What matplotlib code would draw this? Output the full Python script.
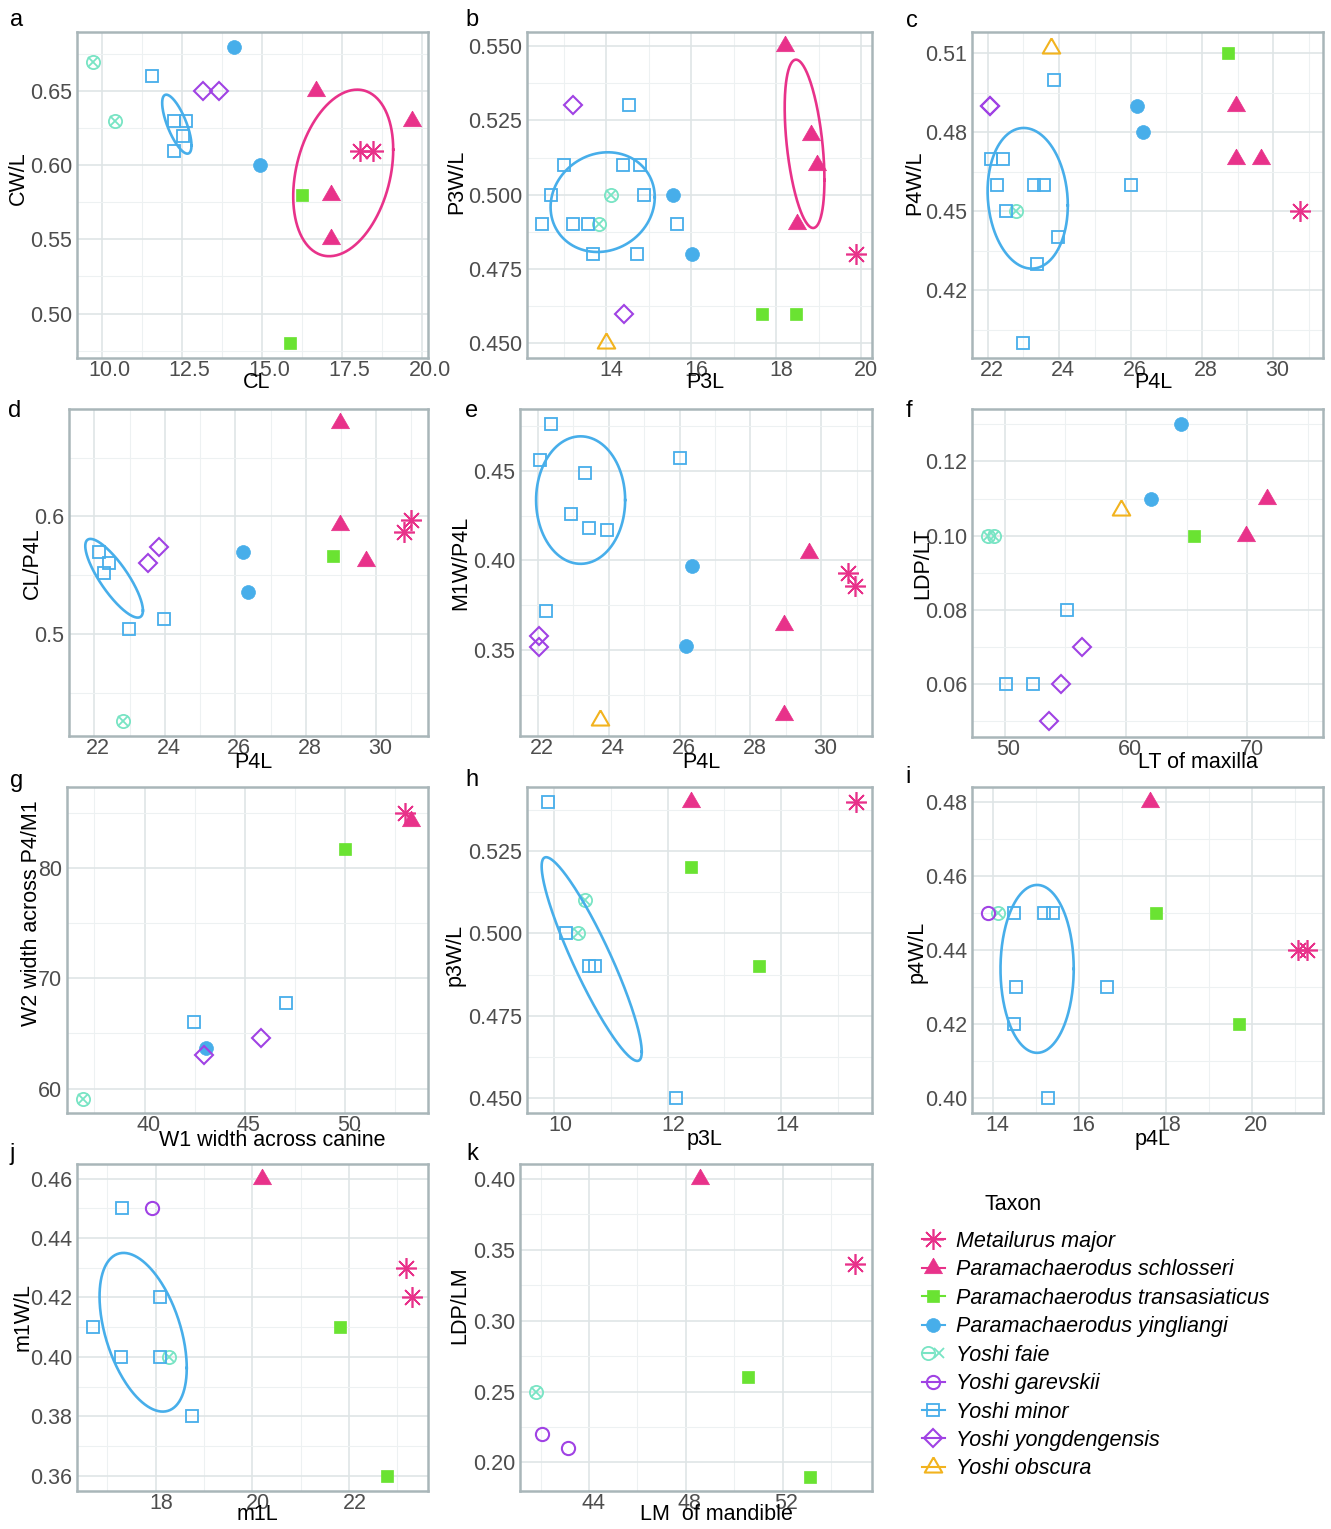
import numpy as np
import matplotlib
matplotlib.use("Agg")
import matplotlib.pyplot as plt
from matplotlib.lines import Line2D
from matplotlib.legend_handler import HandlerTuple
from matplotlib.transforms import ScaledTranslation

plt.rcParams['font.family'] = ['Liberation Sans', 'DejaVu Sans']

W, H = 1331, 1529

# ---------------- taxa ----------------
MM = "Metailurus major"
PS = "Paramachaerodus schlosseri"
PT = "Paramachaerodus transasiaticus"
PY = "Paramachaerodus yingliangi"
YF = "Yoshi faie"
YG = "Yoshi garevskii"
YM = "Yoshi minor"
YY = "Yoshi yongdengensis"
YO = "Yoshi obscura"
taxa = [MM, PS, PT, PY, YF, YG, YM, YY, YO]

# ---------------- data (x, y) per panel ----------------
panel_a = {
    MM: [(18.07, 0.61), (18.49, 0.61)],
    PS: [(16.69, 0.65), (19.71, 0.63), (17.17, 0.58), (17.17, 0.55)],
    PT: [(16.27, 0.58), (15.89, 0.48)],
    PY: [(14.15, 0.68), (14.95, 0.60)],
    YF: [(9.72, 0.67), (10.42, 0.63)],
    YM: [(11.58, 0.66), (12.27, 0.63), (12.63, 0.63), (12.55, 0.62), (12.27, 0.61)],
    YY: [(13.18, 0.65), (13.67, 0.65)],
}
panel_b = {
    MM: [(19.88, 0.48)],
    PS: [(18.20, 0.55), (18.83, 0.52), (18.96, 0.51), (18.49, 0.49)],
    PT: [(17.66, 0.46), (18.47, 0.46)],
    PY: [(15.57, 0.50), (16.01, 0.48)],
    YF: [(14.10, 0.50), (13.82, 0.49)],
    YM: [(12.99, 0.51), (14.39, 0.51), (14.80, 0.51), (12.70, 0.50), (14.89, 0.50),
         (12.49, 0.49), (13.20, 0.49), (13.57, 0.49), (15.67, 0.49), (13.69, 0.48),
         (14.71, 0.48), (14.53, 0.53)],
    YY: [(13.20, 0.53), (14.42, 0.46)],
    YO: [(13.98, 0.45)],
}
panel_c = {
    MM: [(30.74, 0.45)],
    PS: [(28.95, 0.49), (28.95, 0.47), (29.65, 0.47)],
    PT: [(28.74, 0.51)],
    PY: [(26.18, 0.49), (26.34, 0.48)],
    YF: [(22.80, 0.45)],
    YM: [(23.85, 0.50), (22.10, 0.47), (22.42, 0.47), (22.26, 0.46), (23.29, 0.46),
         (23.58, 0.46), (26.02, 0.46), (22.52, 0.45), (23.97, 0.44), (23.38, 0.43),
         (22.98, 0.40)],
    YY: [(22.06, 0.49), (22.06, 0.49)],
    YO: [(23.77, 0.512)],
}
panel_d = {
    MM: [(30.78, 0.587), (31.00, 0.597)],
    PS: [(28.96, 0.680), (28.98, 0.593), (29.70, 0.5625)],
    PT: [(28.77, 0.566)],
    PY: [(26.22, 0.570), (26.36, 0.5355)],
    YF: [(22.81, 0.426)],
    YM: [(22.12, 0.570), (22.41, 0.560), (22.27, 0.552), (22.97, 0.504), (23.98, 0.513)],
    YY: [(23.52, 0.560), (23.83, 0.574)],
}
panel_e = {
    MM: [(30.74, 0.393), (30.96, 0.386)],
    PS: [(29.66, 0.404), (28.96, 0.364), (28.96, 0.314)],
    PY: [(26.35, 0.397), (26.19, 0.3525)],
    YM: [(22.38, 0.476), (22.07, 0.456), (23.34, 0.449), (22.94, 0.426), (23.45, 0.418),
         (23.95, 0.417), (26.02, 0.457), (22.24, 0.372)],
    YY: [(22.04, 0.358), (22.04, 0.3516)],
    YO: [(23.76, 0.311)],
}
panel_f = {
    PS: [(71.62, 0.110), (69.86, 0.100)],
    PT: [(65.59, 0.100)],
    PY: [(64.52, 0.130), (62.05, 0.110)],
    YF: [(48.6, 0.100), (49.1, 0.100)],
    YM: [(55.18, 0.080), (50.14, 0.060), (52.38, 0.060)],
    YY: [(56.36, 0.070), (54.63, 0.060), (53.70, 0.050)],
    YO: [(59.59, 0.107)],
}
panel_g = {
    MM: [(52.99, 84.98)],
    PS: [(53.32, 84.26)],
    PT: [(50.03, 81.69)],
    PY: [(43.06, 63.72)],
    YF: [(36.93, 59.09)],
    YM: [(42.49, 66.04), (47.06, 67.76)],
    YY: [(42.97, 63.02), (45.81, 64.59)],
}
panel_h = {
    MM: [(15.32, 0.54)],
    PS: [(12.41, 0.54)],
    PT: [(12.41, 0.52), (13.60, 0.49)],
    YF: [(10.55, 0.51), (10.42, 0.50)],
    YM: [(9.89, 0.54), (10.20, 0.50), (10.61, 0.49), (10.72, 0.49), (12.15, 0.45)],
}
panel_i = {
    MM: [(21.08, 0.44), (21.27, 0.44)],
    PS: [(17.63, 0.48)],
    PT: [(17.78, 0.45), (19.70, 0.42)],
    YF: [(14.12, 0.45)],
    YG: [(13.88, 0.45)],
    YM: [(14.48, 0.45), (15.17, 0.45), (15.40, 0.45), (14.52, 0.43), (14.48, 0.42),
         (16.65, 0.43), (15.27, 0.40)],
}
panel_j = {
    MM: [(23.19, 0.43), (23.30, 0.42)],
    PS: [(20.21, 0.46)],
    PT: [(21.81, 0.41), (22.79, 0.36)],
    YF: [(18.28, 0.40)],
    YG: [(17.92, 0.45)],
    YM: [(17.30, 0.45), (18.09, 0.42), (16.70, 0.41), (17.28, 0.40), (18.08, 0.40), (18.76, 0.38)],
}
panel_k = {
    MM: [(55.01, 0.34)],
    PS: [(48.59, 0.40)],
    PT: [(50.59, 0.26), (53.12, 0.19)],
    YF: [(41.81, 0.25)],
    YG: [(42.07, 0.22), (43.12, 0.21)],
}

# ellipses: (taxon colour, centre x, centre y, x half-range, y half-range, correlation)
ellipses_a = [(YM, 12.35, 0.6278, 0.458, 0.0199, -0.72), (PS, 17.55, 0.5949, 1.5625, 0.0562, 0.28)]
ellipses_b = [(YM, 13.91, 0.4975, 1.228, 0.01676, 0.10), (PS, 18.67, 0.5171, 0.4685, 0.0283, -0.43)]
ellipses_c = [(YM, 23.12, 0.4549, 1.123, 0.02673, -0.10)]
ellipses_d = [(YM, 22.56, 0.5474, 0.818, 0.0335, -0.82)]
ellipses_e = [(YM, 23.21, 0.4337, 1.256, 0.03556, 0.0)]
ellipses_h = [(YM, 10.66, 0.4922, 0.882, 0.0309, -0.91)]
ellipses_i = [(YM, 15.02, 0.4349, 0.849, 0.02266, 0.0)]
ellipses_j = [(YM, 17.74, 0.4083, 0.903, 0.02669, -0.45)]

# ---------------- styles ----------------
PINK = '#e8328a'
GREEN = '#6ae332'
BLUE = '#47aeea'
TEAL = '#78e4c4'
PURPLE = '#a042e4'
ORANGE = '#f2b31e'
tri = [(0, 1.0), (-0.866, -0.5), (0.866, -0.5), (0, 1.0)]

styles = {
    MM: [dict(marker=(8, 2, 0), ms=15.0, mew=1.2, color=PINK)],
    PS: [dict(marker=tri, ms=15.0, color=PINK, mec=PINK, mfc=PINK, mew=0.5)],
    PT: [dict(marker='s', ms=9.2, color=GREEN, mfc=GREEN, mec=GREEN, mew=0.5)],
    PY: [dict(marker='o', ms=10.0, color=BLUE, mfc=BLUE, mec=BLUE, mew=0.5)],
    YF: [dict(marker='o', ms=9.5, color=TEAL, mfc='none', mec=TEAL, mew=1.3),
         dict(marker='x', ms=6.8, color=TEAL, mew=1.3)],
    YG: [dict(marker='o', ms=9.5, color=PURPLE, mfc='none', mec=PURPLE, mew=1.5)],
    YM: [dict(marker='s', ms=8.6, color=BLUE, mfc='none', mec=BLUE, mew=1.3)],
    YY: [dict(marker='D', ms=9.0, color=PURPLE, mfc='none', mec=PURPLE, mew=1.5)],
    YO: [dict(marker=tri, ms=14.5, color=ORANGE, mfc='none', mec=ORANGE, mew=1.5)],
}
tcolor = {MM: PINK, PS: PINK, PT: GREEN, PY: BLUE, YF: TEAL, YG: PURPLE, YM: BLUE, YY: PURPLE, YO: ORANGE}

BORDER = '#a9b6b9'
GRID = '#dfe5e6'
GRID_MINOR = '#edf1f2'
TICKC = '#4d4d4d'
FS = 15.5

panels = [
    dict(letter='a', data=panel_a, ell=ellipses_a, box=(77, 32, 428, 358),
         xlim=(9.23, 20.2), ylim=(0.470, 0.690),
         xt=[10, 12.5, 15, 17.5, 20], xfmt='{:.1f}', yt=[0.50, 0.55, 0.60, 0.65], yfmt='{:.2f}',
         xl='CL', yl='CW/L', xlp=(257, 383), ylp=(18, 178), lp=(17, 20), dx=8),
    dict(letter='b', data=panel_b, ell=ellipses_b, box=(527, 32, 872, 358),
         xlim=(12.126, 20.26), ylim=(0.4451, 0.5547),
         xt=[14, 16, 18, 20], xfmt='{:.0f}', yt=[0.450, 0.475, 0.500, 0.525, 0.550], yfmt='{:.3f}',
         xl='P3L', yl='P3W/L', xlp=(705, 383), ylp=(457, 182), lp=(472, 20), dx=5),
    dict(letter='c', data=panel_c, ell=ellipses_c, box=(972, 32, 1323, 358),
         xlim=(21.56, 31.39), ylim=(0.3942, 0.5181),
         xt=[22, 24, 26, 28, 30], xfmt='{:.0f}', yt=[0.42, 0.45, 0.48, 0.51], yfmt='{:.2f}',
         xl='P4L', yl='P4W/L', xlp=(1153, 383), ylp=(915, 183), lp=(912, 21), dx=4),
    dict(letter='d', data=panel_d, ell=ellipses_d, box=(69, 409, 428, 736),
         xlim=(21.28, 31.47), ylim=(0.4131, 0.6915),
         xt=[22, 24, 26, 28, 30], xfmt='{:.0f}', yt=[0.5, 0.6], yfmt='{:.1f}',
         xl='P4L', yl='CL/P4L', xlp=(253, 762), ylp=(32, 563), lp=(15, 411), dx=4),
    dict(letter='e', data=panel_e, ell=ellipses_e, box=(520, 409, 872, 736),
         xlim=(21.50, 31.43), ylim=(0.3021, 0.4845),
         xt=[22, 24, 26, 28, 30], xfmt='{:.0f}', yt=[0.35, 0.40, 0.45], yfmt='{:.2f}',
         xl='P4L', yl='M1W/P4L', xlp=(701, 762), ylp=(461, 563), lp=(472, 411), dx=4),
    dict(letter='f', data=panel_f, ell=[], box=(972, 409, 1323, 737),
         xlim=(47.32, 76.22), ylim=(0.0458, 0.1341),
         xt=[50, 60, 70], xfmt='{:.0f}', yt=[0.06, 0.08, 0.10, 0.12], yfmt='{:.2f}',
         xl='LT of maxilla', yl='LDP/LT', xlp=(1198, 762), ylp=(923, 563), lp=(909, 411), dx=4),
    dict(letter='g', data=panel_g, ell=[], box=(67, 787, 428, 1113),
         xlim=(36.13, 54.15), ylim=(57.79, 87.34),
         xt=[40, 45, 50], xfmt='{:.0f}', yt=[60, 70, 80], yfmt='{:.0f}',
         xl='W1 width across canine', yl='W2 width across P4/M1', xlp=(272, 1140), ylp=(32, 913),
         lp=(17, 781), dx=4),
    dict(letter='h', data=panel_h, ell=ellipses_h, box=(527, 787, 872, 1113),
         xlim=(9.52, 15.6), ylim=(0.4455, 0.5444),
         xt=[10, 12, 14], xfmt='{:.0f}', yt=[0.450, 0.475, 0.500, 0.525], yfmt='{:.3f}',
         xl='p3L', yl='p3W/L', xlp=(705, 1140), ylp=(455, 955), lp=(472, 780), dx=6),
    dict(letter='i', data=panel_i, ell=ellipses_i, box=(972, 787, 1323, 1113),
         xlim=(13.51, 21.65), ylim=(0.396, 0.484),
         xt=[14, 16, 18, 20], xfmt='{:.0f}', yt=[0.40, 0.42, 0.44, 0.46, 0.48], yfmt='{:.2f}',
         xl='p4L', yl='p4W/L', xlp=(1153, 1140), ylp=(917, 952), lp=(908, 777), dx=4),
    dict(letter='j', data=panel_j, ell=ellipses_j, box=(77, 1164, 428, 1491),
         xlim=(16.37, 23.64), ylim=(0.3549, 0.4649),
         xt=[18, 20, 22], xfmt='{:.0f}', yt=[0.36, 0.38, 0.40, 0.42, 0.44, 0.46], yfmt='{:.2f}',
         xl='m1L', yl='m1W/L', xlp=(257, 1515), ylp=(23, 1317), lp=(12, 1154), dx=6),
    dict(letter='k', data=panel_k, ell=[], box=(520, 1164, 872, 1491),
         xlim=(41.14, 55.70), ylim=(0.1799, 0.4105),
         xt=[44, 48, 52], xfmt='{:.0f}', yt=[0.20, 0.25, 0.30, 0.35, 0.40], yfmt='{:.2f}',
         xl='LM  of mandible', yl='LDP/LM', xlp=(716, 1515), ylp=(460, 1305), lp=(472, 1154), dx=4),
]

fig = plt.figure(figsize=(W / 100, H / 100), dpi=100)


def minor_ticks(ticks, lim):
    step = ticks[1] - ticks[0]
    vals = np.arange(ticks[0] - step, ticks[-1] + 2 * step, step / 2.0)
    out = [v for v in vals if lim[0] < v < lim[1] and min(abs(v - t) for t in ticks) > step * 0.1]
    return out


tt = np.linspace(0, 2 * np.pi, 300)

for p in panels:
    L, T, R, B = p['box']
    ax = fig.add_axes([L / W, 1 - B / H, (R - L) / W, (B - T) / H])
    ax.set_xlim(*p['xlim'])
    ax.set_ylim(*p['ylim'])
    ax.set_xticks(p['xt'])
    ax.set_xticklabels([p['xfmt'].format(v) for v in p['xt']])
    ax.set_yticks(p['yt'])
    ax.set_yticklabels([p['yfmt'].format(v) for v in p['yt']])
    ax.set_xticks(minor_ticks(p['xt'], p['xlim']), minor=True)
    ax.set_yticks(minor_ticks(p['yt'], p['ylim']), minor=True)
    ax.grid(True, which='major', color=GRID, lw=1.2, zorder=0)
    ax.grid(True, which='minor', color=GRID_MINOR, lw=0.8, zorder=0)
    ax.set_axisbelow(True)
    ax.tick_params(which='major', length=0, labelsize=FS, labelcolor=TICKC)
    ax.tick_params(axis='x', which='major', pad=1.2)
    ax.tick_params(axis='y', which='major', pad=3.5)
    ax.tick_params(which='minor', length=0)
    shift = ScaledTranslation(p['dx'] / 100.0, 0, fig.dpi_scale_trans)
    for lab in ax.get_xticklabels():
        lab.set_transform(lab.get_transform() + shift)
    for s in ax.spines.values():
        s.set_color(BORDER)
        s.set_linewidth(1.8)

    for taxon in taxa:
        if taxon not in p['data']:
            continue
        pts = p['data'][taxon]
        xs = [q[0] for q in pts]
        ys = [q[1] for q in pts]
        for st in styles[taxon]:
            ax.plot(xs, ys, linestyle='none', zorder=3, clip_on=False, **st)

    for (taxon, cx, cy, hx, hy, r) in p['ell']:
        ex = cx + hx * np.cos(tt)
        ey = cy + hy * (r * np.cos(tt) + np.sqrt(1 - r * r) * np.sin(tt))
        ax.plot(ex, ey, color=tcolor[taxon], lw=1.9, zorder=4)

    ax.set_xlabel(p['xl'], fontsize=FS, color='black')
    ax.set_ylabel(p['yl'], fontsize=FS, color='black')
    ax.xaxis.label.set_va('center')
    ax.yaxis.label.set_va('center')
    ax.xaxis.set_label_coords((p['xlp'][0] - L) / (R - L), (B - p['xlp'][1]) / (B - T))
    ax.yaxis.set_label_coords((p['ylp'][0] - L) / (R - L), (B - p['ylp'][1]) / (B - T))

    fig.text(p['lp'][0] / W, 1 - p['lp'][1] / H, p['letter'], fontsize=17,
             ha='center', va='center', color='black')

# ---------------- legend ----------------
handles = []
for taxon in taxa:
    parts = []
    for i, st in enumerate(styles[taxon]):
        parts.append(Line2D([0], [0], linestyle='-' if i == 0 else 'none',
                            lw=1.5, **st))
    handles.append(tuple(parts) if len(parts) > 1 else parts[0])

leg = fig.legend(handles, taxa, loc='upper left', bbox_to_anchor=(922 / W, 1 - 1231 / H),
                 frameon=False, prop=dict(family='Liberation Sans', style='italic', size=FS),
                 handlelength=1.05, handletextpad=0.55, labelspacing=0.345, borderpad=0,
                 borderaxespad=0, handler_map={tuple: HandlerTuple(ndivide=None, pad=0)})
fig.text(1013 / W, 1 - 1205 / H, 'Taxon', fontsize=FS, ha='center', va='center')

fig.savefig('out.png', dpi=100)
